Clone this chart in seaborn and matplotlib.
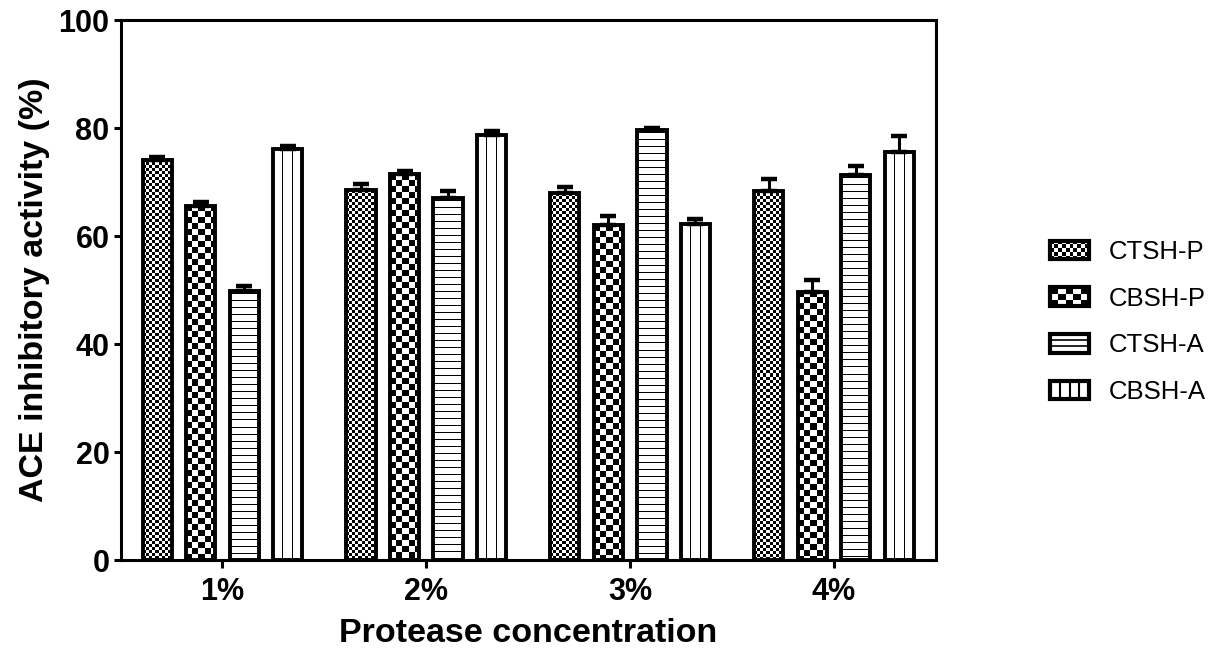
import numpy as np
import pandas as pd
import matplotlib
matplotlib.use("Agg")
import matplotlib.pyplot as plt
import seaborn as sns
from matplotlib.patches import Patch, Rectangle
from matplotlib.lines import Line2D
from matplotlib.legend_handler import HandlerBase

# ---------------- data ----------------
concentrations = ["1%", "2%", "3%", "4%"]
series = ["CTSH-P", "CBSH-P", "CTSH-A", "CBSH-A"]
ctsh_p = [74.1, 68.5, 67.9, 68.4]
cbsh_p = [65.6, 71.4, 62.0, 49.7]
ctsh_a = [49.9, 67.1, 79.7, 71.3]
cbsh_a = [76.2, 78.7, 62.3, 75.5]
err_ctsh_p = [0.5, 1.1, 1.1, 2.1]
err_cbsh_p = [0.7, 0.6, 1.7, 2.2]
err_ctsh_a = [0.9, 1.3, 0.3, 1.7]
err_cbsh_a = [0.5, 0.7, 0.9, 3.0]

values = [ctsh_p, cbsh_p, ctsh_a, cbsh_a]
errors = [err_ctsh_p, err_cbsh_p, err_ctsh_a, err_cbsh_a]
kinds = ["fine", "coarse", "hlines", "vlines"]

df = pd.DataFrame({
    "Concentration": [c for s in series for c in concentrations],
    "Series": [s for s in series for _ in concentrations],
    "Value": [v for vals in values for v in vals],
})

# ---------------- style ----------------
sns.set_theme(style="ticks")
plt.rcParams["font.family"] = ["Liberation Sans", "DejaVu Sans"]
plt.rcParams["text.color"] = "black"
plt.rcParams["axes.labelcolor"] = "black"
plt.rcParams["xtick.color"] = "black"
plt.rcParams["ytick.color"] = "black"

fig = plt.figure(figsize=(12.21, 6.48), dpi=100)
ax = fig.add_axes([120.5 / 1221, 1 - 560 / 648, (936 - 120.5) / 1221, (560 - 20) / 648])

sns.barplot(data=df, x="Concentration", y="Value", hue="Series",
            order=concentrations, hue_order=series,
            palette=["white"] * 4, saturation=1, width=0.854, gap=0.33,
            errorbar=None, edgecolor="black", linewidth=2.8,
            legend=False, ax=ax)

ax.set_xlim(-0.5, 3.5)
ax.set_ylim(0, 100)
ax.set_yticks(range(0, 101, 20))

for sp in ax.spines.values():
    sp.set_visible(True)
    sp.set_linewidth(2.2)
    sp.set_color("black")

ax.tick_params(axis="both", direction="out", width=2.2, color="black",
               labelsize=22, labelcolor="black")
ax.tick_params(axis="x", length=6, pad=6)
ax.tick_params(axis="y", length=5, pad=3)
for lab in ax.get_xticklabels() + ax.get_yticklabels():
    lab.set_fontweight("bold")

ax.set_xlabel("Protease concentration", fontsize=24.5, fontweight="bold", labelpad=8, color="black")
ax.set_ylabel("ACE inhibitory activity (%)", fontsize=24.5, fontweight="bold", labelpad=6, color="black")


# ---------------- textures ----------------
def texture(kind, h, w):
    ii, jj = np.mgrid[0:h, 0:w]
    if kind == "fine":
        return ((ii // 3 + jj // 3) % 2).astype(float)
    if kind == "coarse":
        return ((ii // 6 + jj // 6) % 2).astype(float)
    arr = np.ones((h, w))
    if kind == "hlines":
        arr[(ii % 7) == 3] = 0.0
    elif kind == "vlines":
        for k in (1, 2):
            c = int(round(w * k / 3.0))
            arr[:, max(c - 1, 0):c] = 0.0
    return arr


fig.canvas.draw()
for container, kind, errs in zip(ax.containers, kinds, errors):
    xs, ys = [], []
    for bar in container:
        bb = bar.get_window_extent()
        w_px = max(int(round(bb.width)), 1)
        h_px = max(int(round(bb.height)), 1)
        x0, y0 = bar.get_x(), bar.get_y()
        x1, y1 = x0 + bar.get_width(), y0 + bar.get_height()
        im = ax.imshow(texture(kind, h_px, w_px), cmap="gray", vmin=0, vmax=1,
                       extent=(x0, x1, y0, y1), aspect="auto",
                       interpolation="nearest", zorder=1.5)
        im.set_clip_path(bar)
        bar.set_facecolor("none")
        bar.set_zorder(2)
        xs.append(x0 + bar.get_width() / 2)
        ys.append(y1)
    ax.errorbar(xs, ys, yerr=[np.zeros(len(errs)), errs], fmt="none",
                ecolor="black", elinewidth=2.2, capsize=5.5, capthick=3.2,
                zorder=3)

ax.set_xlim(-0.5, 3.5)
ax.set_ylim(0, 100)


# ---------------- legend ----------------
class PatternHandler(HandlerBase):
    def __init__(self, kind):
        super().__init__()
        self.kind = kind

    def create_artists(self, legend, orig_handle, xdescent, ydescent,
                       width, height, fontsize, trans):
        x0, y0 = -xdescent, -ydescent
        arts = [Rectangle((x0, y0), width, height, facecolor="white",
                          edgecolor="none", transform=trans)]
        if self.kind in ("fine", "coarse"):
            nx, ny = (10, 5) if self.kind == "fine" else (5, 3)
            cw, ch = width / nx, height / ny
            for i in range(nx):
                for j in range(ny):
                    if (i + j) % 2 == 0:
                        arts.append(Rectangle((x0 + i * cw, y0 + j * ch), cw, ch,
                                              facecolor="black", edgecolor="none",
                                              transform=trans))
        elif self.kind == "hlines":
            for k in (1, 2):
                yy = y0 + height * k / 3.0
                arts.append(Line2D([x0, x0 + width], [yy, yy], color="black",
                                   lw=1.2, transform=trans))
        else:
            for k in (1, 2, 3):
                xx = x0 + width * k / 4.0
                arts.append(Line2D([xx, xx], [y0, y0 + height], color="black",
                                   lw=1.5, transform=trans))
        arts.append(Rectangle((x0, y0), width, height, facecolor="none",
                              edgecolor="black", lw=3, transform=trans))
        return arts


handles = [Patch(label=s) for s in series]
hmap = {h: PatternHandler(k) for h, k in zip(handles, kinds)}
fig.legend(handles=handles, labels=series, handler_map=hmap,
           loc="upper left", bbox_to_anchor=(1050 / 1221, 1 - 240 / 648),
           bbox_transform=fig.transFigure, frameon=False, fontsize=18.5,
           labelcolor="black",
           handlelength=1.52, handleheight=0.74, handletextpad=0.75,
           labelspacing=0.88, borderpad=0, borderaxespad=0)

fig.savefig("out.png", dpi=100)
